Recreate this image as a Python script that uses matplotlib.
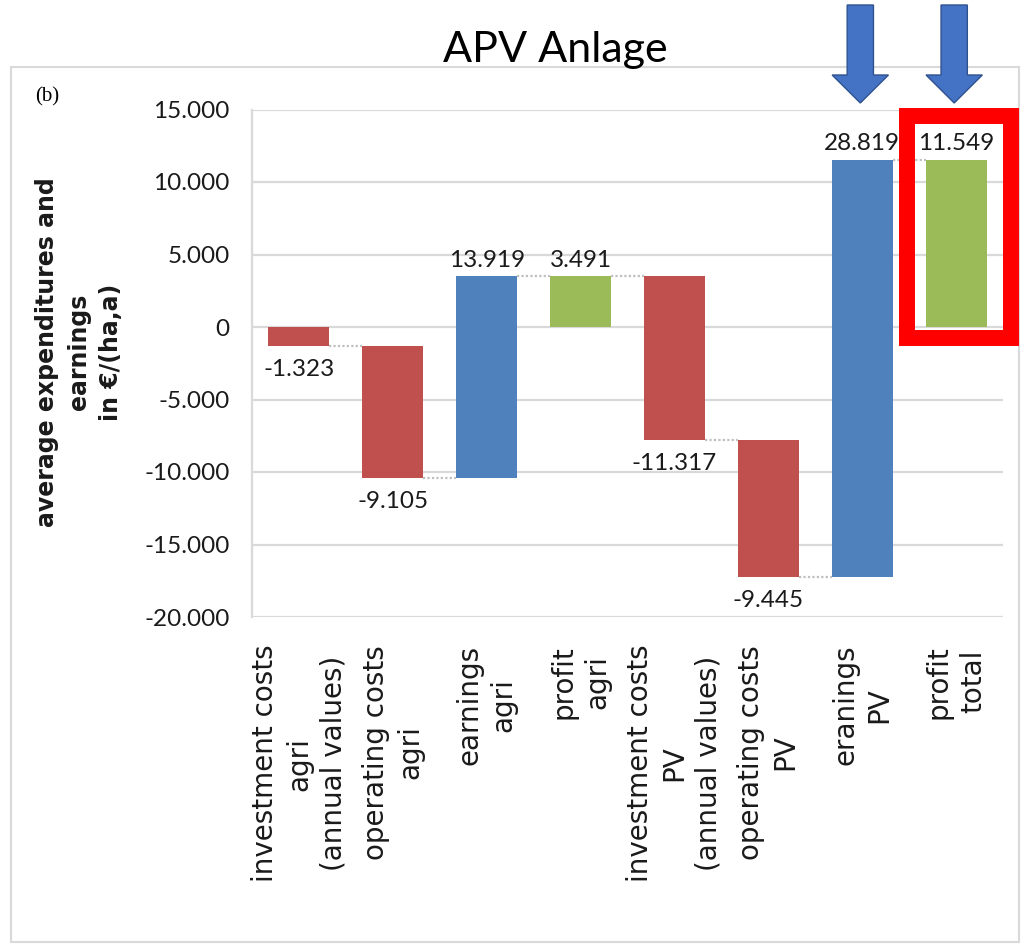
import matplotlib
matplotlib.use("Agg")
import matplotlib.pyplot as plt
from matplotlib.patches import Rectangle, FancyArrow
from matplotlib.transforms import blended_transform_factory

# ---------------- data ----------------
categories = [
    "investment costs\nagri\n(annual values)",
    "operating costs\nagri",
    "earnings\nagri",
    "profit\nagri",
    "investment costs\nPV\n(annual values)",
    "operating costs\nPV",
    "eranings\nPV",
    "profit\ntotal",
]
values = [-1323, -9105, 13919, 3491, -11317, -9445, 28819, 11549]
kinds = ["delta", "delta", "delta", "total", "delta", "delta", "delta", "total"]
yticks = [-20000, -15000, -10000, -5000, 0, 5000, 10000, 15000]
ytick_labels = ["-20.000", "-15.000", "-10.000", "-5.000", "0", "5.000", "10.000", "15.000"]
title = "APV Anlage"
ylabel = "average expenditures and\nearnings\nin €/(ha,a)"
panel_label = "(b)"
arrow_targets = [6, 7]
highlight_index = 7

# ---------------- style ----------------
C_NEG = "#C0504D"
C_POS = "#4F81BD"
C_TOT = "#9BBB59"
C_GRID = "#D9D9D9"
NUM_FONT = ["Lato", "DejaVu Sans"]
NUM_SIZE = 17.5

W, H = 1025, 944
fig = plt.figure(figsize=(W / 100, H / 100), dpi=100)
fig.patch.set_facecolor("white")

# outer frame
fig.add_artist(Rectangle((11 / W, 1 - 942 / H), (1019 - 11) / W, (942 - 67) / H,
                         transform=fig.transFigure, fill=False,
                         edgecolor=C_GRID, lw=1.5, zorder=0))

ax = fig.add_axes([252 / W, 1 - 617 / H, (1003 - 252) / W, (617 - 109.5) / H])

# waterfall geometry
x = list(range(len(values)))
bottoms, heights, colors, ends = [], [], [], []
cum = 0
for v, k in zip(values, kinds):
    if k == "total":
        bottoms.append(0)
        heights.append(v)
        colors.append(C_TOT)
        cum = v
    else:
        bottoms.append(cum)
        heights.append(v)
        colors.append(C_NEG if v < 0 else C_POS)
        cum += v
    ends.append(cum)

bw = 0.65
ax.bar(x, heights, bottom=bottoms, width=bw, color=colors, edgecolor="none", zorder=3)

# connectors
for i in range(len(values) - 1):
    ax.plot([x[i] + bw / 2, x[i + 1] - bw / 2], [ends[i], ends[i]],
            color="#BFBFBF", lw=1.6, ls=(0, (1, 1)), zorder=2)

# data labels
for i, (v, k) in enumerate(zip(values, kinds)):
    txt = f"{v:,}".replace(",", ".")
    yv = bottoms[i] + heights[i]
    if v < 0:
        ax.annotate(txt, (x[i], yv), xytext=(0, -9), textcoords="offset points",
                    ha="center", va="top", fontsize=NUM_SIZE, family=NUM_FONT,
                    color="#1a1a1a", zorder=4)
    else:
        ax.annotate(txt, (x[i], yv), xytext=(0, 7), textcoords="offset points",
                    ha="center", va="baseline", fontsize=NUM_SIZE, family=NUM_FONT,
                    color="#1a1a1a", zorder=4)

# axes styling
ax.set_xlim(-0.5, 7.5)
ax.set_ylim(-20000, 15000)
ax.set_yticks(yticks)
ax.set_yticklabels(ytick_labels)
for lab in ax.get_yticklabels():
    lab.set_fontfamily(NUM_FONT)
    lab.set_fontsize(NUM_SIZE)
    lab.set_color("#1a1a1a")
ax.set_xticks(x)
ax.set_xticklabels(categories)
for lab in ax.get_xticklabels():
    lab.set_fontfamily(["DejaVu Sans"])
    lab.set_fontsize(20)
    lab.set_rotation(90)
    lab.set_ha("center")
    lab.set_va("top")
    lab.set_multialignment("center")
    lab.set_linespacing(1.28)
    lab.set_color("#1a1a1a")
ax.tick_params(axis="y", length=0, pad=16)
ax.tick_params(axis="x", length=0, pad=20)
ax.yaxis.grid(True, color=C_GRID, lw=1.6)
ax.set_axisbelow(True)
for s in ["top", "right", "bottom"]:
    ax.spines[s].set_visible(False)
ax.spines["left"].set_color(C_GRID)
ax.spines["left"].set_linewidth(1.6)

# y label, title, panel label
fig.text(79 / W, 1 - 352 / H, ylabel, rotation=90, ha="center", va="center",
         multialignment="center", fontsize=17, fontweight="bold",
         family=["DejaVu Sans"], linespacing=1.42, color="#1a1a1a")
fig.text(555 / W, 1 - 62 / H, title, ha="center", va="baseline",
         fontsize=31, family=["Lato", "DejaVu Sans"], color="black")
fig.text(35 / W, 1 - 101 / H, panel_label, ha="left", va="baseline",
         fontsize=15, family=["Liberation Serif", "DejaVu Serif"], color="black")

# arrows
btr = blended_transform_factory(ax.transData, fig.transFigure)
y_top = 1 - 5 / H
y_tip = 1 - 103 / H
for t in arrow_targets:
    arr = FancyArrow(x[t] - 0.02, y_top, 0, y_tip - y_top, width=0.28,
                     head_width=0.6, head_length=28 / H,
                     length_includes_head=True, transform=btr,
                     facecolor="#4472C4", edgecolor="#2F528F", lw=1.0,
                     clip_on=False, zorder=10)
    ax.add_artist(arr)

# red highlight box
ax.add_patch(Rectangle((highlight_index - 0.523, -793), 1.105, 15379,
                       fill=False, edgecolor="#FF0000", lw=11.5,
                       joinstyle="miter", clip_on=False, zorder=9))

fig.savefig("out.png", dpi=100, facecolor="white")
